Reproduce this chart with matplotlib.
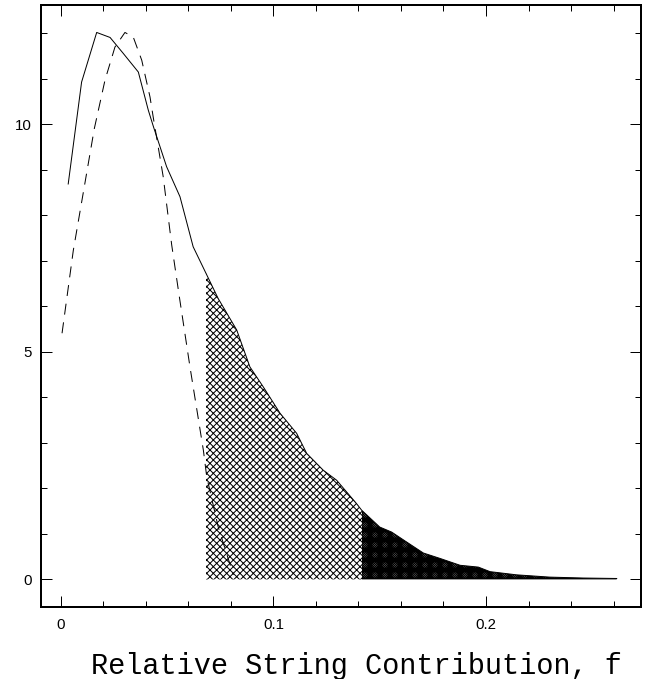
import matplotlib
matplotlib.use("Agg")
import matplotlib.pyplot as plt
from matplotlib.patches import Rectangle

# ---- data ----
solid_f = [0.0034, 0.0097, 0.0168, 0.0231, 0.0293, 0.0364, 0.0411, 0.0435,
           0.0497, 0.0560, 0.0622, 0.0740, 0.0827, 0.0889, 0.0952, 0.1031,
           0.1109, 0.1156, 0.1234, 0.1297, 0.1390, 0.1415, 0.1500, 0.1556,
           0.1627, 0.1705, 0.1784, 0.1878, 0.1964, 0.2019, 0.2144, 0.2300,
           0.2458, 0.2615]
solid_y = [8.69, 10.93, 12.02, 11.91, 11.56, 11.15, 10.31, 9.95,
           9.07, 8.41, 7.31, 6.17, 5.48, 4.67, 4.23, 3.65,
           3.21, 2.77, 2.40, 2.18, 1.67, 1.52, 1.15, 1.04,
           0.82, 0.58, 0.46, 0.31, 0.27, 0.17, 0.10, 0.05,
           0.03, 0.02]

dashed_f = [0.0005, 0.0058, 0.0157, 0.0207, 0.0254, 0.0301, 0.0340, 0.0380,
            0.0419, 0.0434, 0.0481, 0.0521, 0.0557, 0.0607, 0.0670, 0.0686,
            0.0740, 0.0811]
dashed_y = [5.41, 7.23, 9.91, 10.97, 11.70, 12.02, 11.92, 11.41,
            10.60, 10.16, 8.85, 7.35, 6.21, 4.67, 2.84, 2.25,
            1.15, 0.10]

# shaded ranges of f: [start of cross-hatch, start of dark, end of dark]
shade_edges = [0.0682, 0.1415, 0.2615]

x_major = [0.0, 0.1, 0.2]
x_major_labels = ["0", "0.1", "0.2"]
x_minor = [0.02 * i for i in range(14)]
y_major = [0, 5, 10]
y_major_labels = ["0", "5", "10"]
y_minor = list(range(13))

xlabel = "Relative String Contribution, f"

# ---- figure ----
DPI = 80
plt.rcParams['hatch.linewidth'] = 0.9
plt.rcParams['font.family'] = ['Liberation Sans', 'DejaVu Sans']

fig = plt.figure(figsize=(651 / DPI, 679 / DPI), dpi=DPI)
ax = fig.add_axes([0.0625, 0.10648, 0.9226, 0.8866])

# shaded regions, clipped to their f ranges
ymin, ymax = -0.6, 12.63
for (a, b), hatch in zip([(shade_edges[0], shade_edges[1]),
                          (shade_edges[1], shade_edges[2])],
                         ['xxxx', 'xxxxxxxxxxxx']):
    poly = ax.fill_between(solid_f, 0, solid_y, facecolor='white',
                           edgecolor='black', linewidth=0, hatch=hatch,
                           zorder=1)
    clip = Rectangle((a, ymin), b - a, ymax - ymin, transform=ax.transData,
                     facecolor='none', edgecolor='none')
    poly.set_clip_path(clip)

ax.plot(solid_f, solid_y, color='black', lw=0.9, zorder=3)
ax.plot(dashed_f, dashed_y, color='black', lw=0.9,
        linestyle=(0, (11, 7.8)), zorder=3)

ax.set_xlim(-0.00955, 0.27308)
ax.set_ylim(ymin, ymax)

ax.set_xticks(x_major)
ax.set_xticklabels(x_major_labels)
ax.set_xticks(x_minor, minor=True)
ax.set_yticks(y_major)
ax.set_yticklabels(y_major_labels)
ax.set_yticks(y_minor, minor=True)

ax.tick_params(which='both', direction='in', top=True, right=True,
               width=0.9, color='black')
ax.tick_params(which='major', length=9.5, labelsize=13.5)
ax.tick_params(axis='x', which='major', pad=10.5)
ax.tick_params(axis='y', which='major', pad=8.3)
ax.tick_params(which='minor', length=5)

for s in ax.spines.values():
    s.set_linewidth(1.8)

fig.text(356 / 651, 5 / 679, xlabel, ha='center', va='baseline',
         family=['Liberation Mono', 'DejaVu Sans Mono'], size=25.8)

fig.savefig('out.png', dpi=DPI)
